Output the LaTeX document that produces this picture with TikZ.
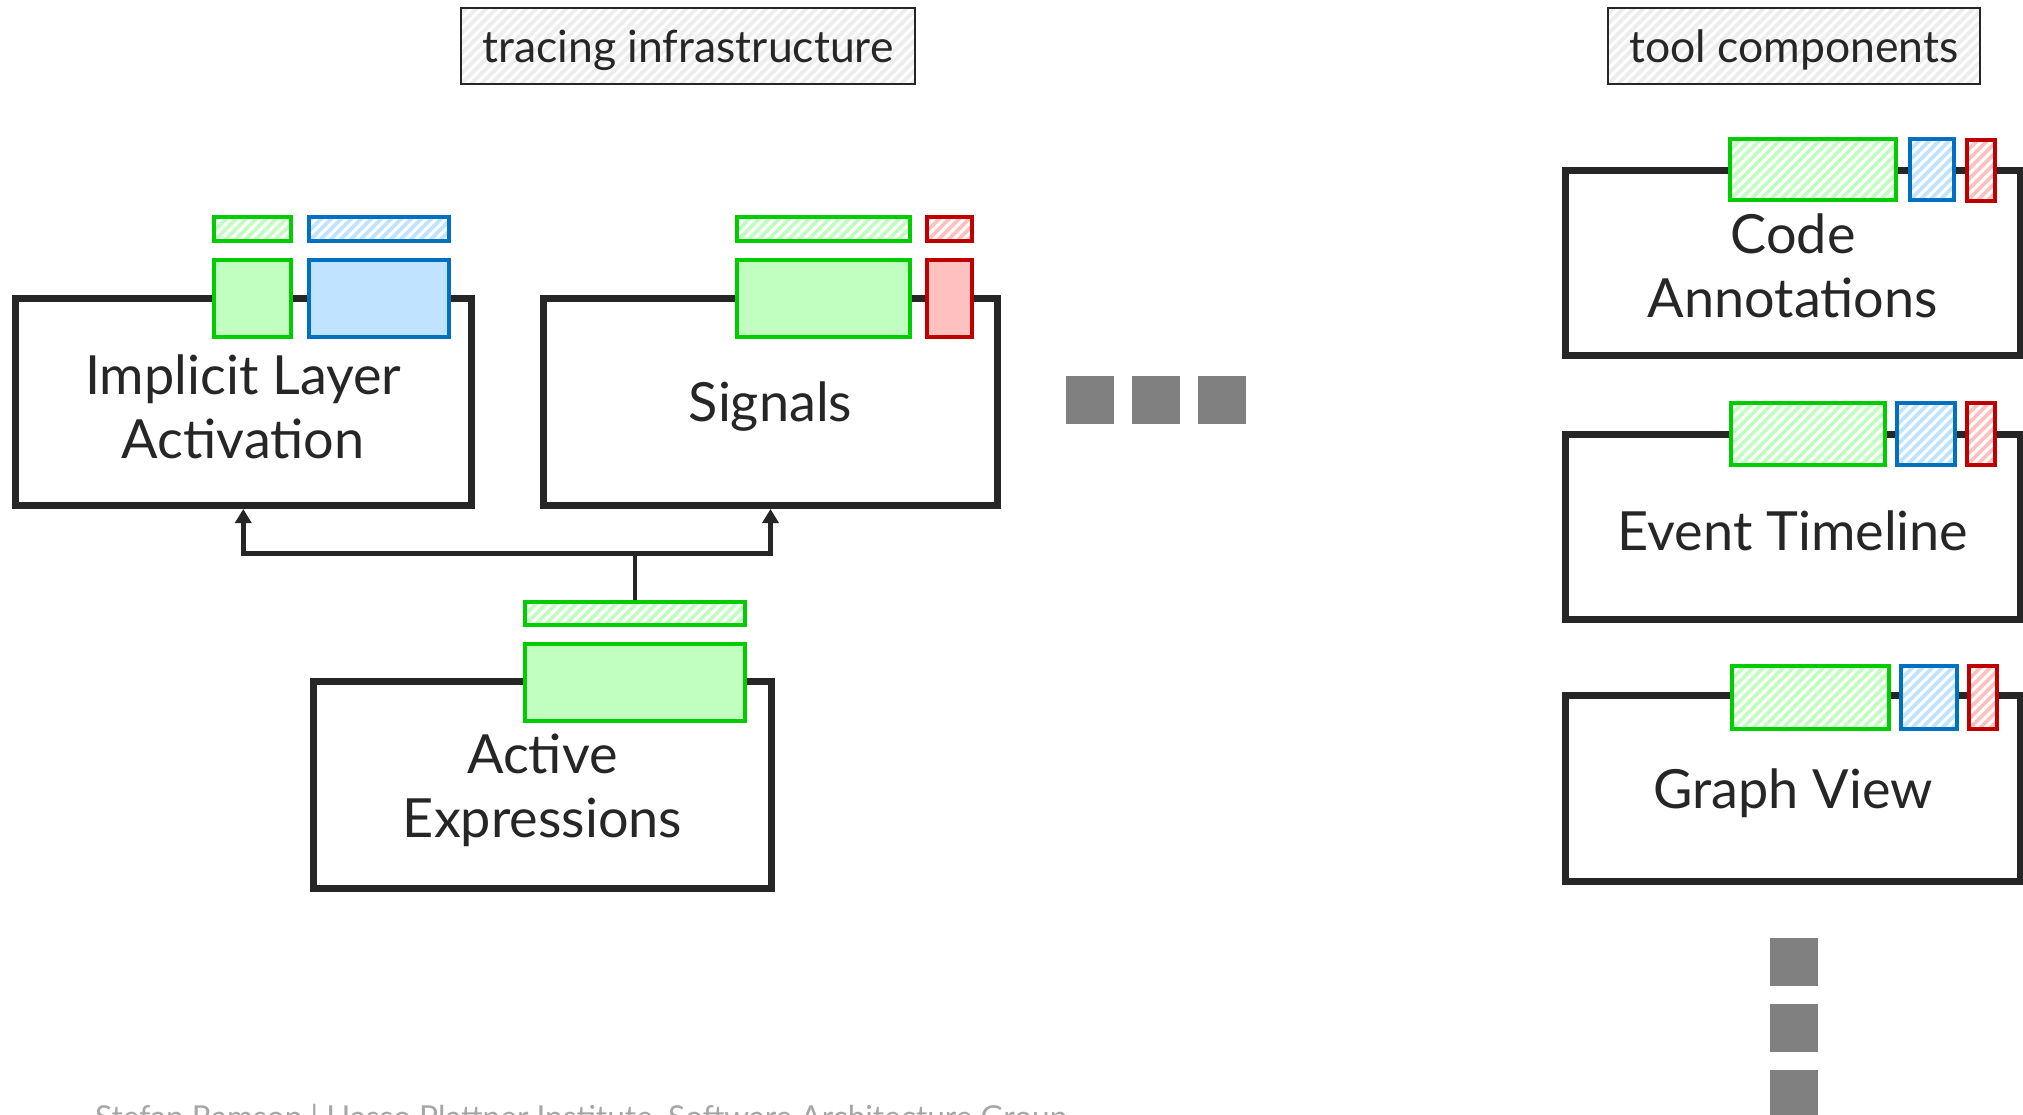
\documentclass[tikz,border=0pt]{standalone}
\usepackage{fontspec}
\setmainfont{Lato}
\usetikzlibrary{arrows.meta}

\definecolor{ink}{HTML}{262626}
\definecolor{gline}{HTML}{00CC00}
\definecolor{gfillc}{HTML}{C0FFC0}
\definecolor{bline}{HTML}{0070C0}
\definecolor{bfillc}{HTML}{C0E4FF}
\definecolor{rline}{HTML}{C00000}
\definecolor{rfillc}{HTML}{FFC0C0}
\definecolor{dotgray}{HTML}{808080}
\definecolor{stripegray}{HTML}{EDEDED}
\definecolor{footgray}{HTML}{A6A6A6}

\tikzset{
  % diagonal stripes clipped to the node outline
  hatch/.style={path picture={
    \foreach \k in {-12,...,48}
      \draw[line width=3.6pt,#1]
        ([xshift=\k*10pt]path picture bounding box.south west) -- ++(120pt,120pt);
  }},
  module/.style={draw=ink, line width=7pt, fill=white, rectangle, inner sep=0pt},
  modtext/.style={inner sep=0pt, text=ink, align=center, font=\fontsize{54}{64}\selectfont},
  tag/.style={rectangle, inner sep=0pt, line width=4pt},
  gtag/.style={tag, draw=gline, fill=gfillc},
  btag/.style={tag, draw=bline, fill=bfillc},
  rtag/.style={tag, draw=rline, fill=rfillc},
  gstripe/.style={tag, draw=gline, fill=white, hatch=gfillc},
  bstripe/.style={tag, draw=bline, fill=white, hatch=bfillc},
  rstripe/.style={tag, draw=rline, fill=white, hatch=rfillc},
  heading/.style={rectangle, draw=ink, line width=2pt, fill=white, hatch=stripegray,
    inner sep=0pt},
  headtext/.style={inner sep=0pt, text=ink, font=\fontsize{44.5}{52}\selectfont},
  more/.style={rectangle, fill=dotgray, minimum size=48pt, inner sep=0pt},
  link/.style={draw=ink, line width=4.5pt},
  linkarrow/.style={link, -{Triangle[width=16pt,length=14pt]}},
}

\begin{document}
\begin{tikzpicture}[x=1pt,y=-1pt]
\useasboundingbox (0,0) rectangle (2023,1115);
\clip (0,0) rectangle (2023,1115);
\fill[white] (0,0) rectangle (2023,1115);

% section headings
\node[heading, minimum width=454pt, minimum height=76pt] (hinfra) at (688,46) {};
\node[headtext] (hinfrat) at ([yshift=-4pt]hinfra.center) {tracing infrastructure};
\node[heading, minimum width=372pt, minimum height=76pt] (htools) at (1794,46) {};
\node[headtext] (htoolst) at ([yshift=-4pt]htools.center) {tool components};

% tracing infrastructure modules
\node[module, minimum width=456.5pt, minimum height=207pt] (ila) at (243.25,402) {};
\node[modtext] (ilat) at ([yshift=-5pt]ila.center) {Implicit Layer\\Activation};
\node[module, minimum width=454pt, minimum height=207pt] (sig) at (770.5,402) {};
\node[modtext] (sigt) at ([yshift=-5pt]sig.center) {Signals};
\node[module, minimum width=458pt, minimum height=207pt] (ae) at (542.5,785) {};
\node[modtext] (aet) at ([yshift=-5pt]ae.center) {Active\\Expressions};

% tags of Implicit Layer Activation
\node[gstripe, minimum width=77pt, minimum height=24pt] (ilgh) at (252.5,229) {};
\node[bstripe, minimum width=140pt, minimum height=24pt] (ilbh) at (379,229) {};
\node[gtag, minimum width=77pt, minimum height=77pt] (ilgf) at (252.5,298.5) {};
\node[btag, minimum width=140pt, minimum height=77pt] (ilbf) at (379,298.5) {};

% tags of Signals
\node[gstripe, minimum width=173pt, minimum height=24pt] (sggh) at (823.5,229) {};
\node[rstripe, minimum width=45pt, minimum height=24pt] (sgrh) at (949.5,229) {};
\node[gtag, minimum width=173pt, minimum height=77pt] (sggf) at (823.5,298.5) {};
\node[rtag, minimum width=45pt, minimum height=77pt] (sgrf) at (949.5,298.5) {};

% tags of Active Expressions
\node[gstripe, minimum width=220pt, minimum height=23pt] (aeh) at (635,613.5) {};
\node[gtag, minimum width=220pt, minimum height=77pt] (aef) at (635,682.5) {};

% dependencies
\coordinate (jn) at (635,553.5);
\draw[link] (aeh.north) -- (jn);
\draw[linkarrow] (jn) -| (ila.south);
\draw[linkarrow] (jn) -| (sig.south);

% further infrastructure
\node[more] (m1) at (1090,400) {};
\node[more] (m2) at (1156,400) {};
\node[more] (m3) at (1222,400) {};

% tool components
\node[module, minimum width=455pt, minimum height=185pt] (ca) at (1793,263) {};
\node[modtext] (cat) at ([yshift=-3pt]ca.center) {Code\\Annotations};
\node[module, minimum width=455pt, minimum height=185pt] (et) at (1793,527) {};
\node[modtext] (ett) at ([yshift=-4pt]et.center) {Event Timeline};
\node[module, minimum width=455pt, minimum height=186pt] (gv) at (1793,788.5) {};
\node[modtext] (gvt) at ([yshift=-5pt]gv.center) {Graph View};

\node[gstripe, minimum width=166pt, minimum height=61pt] (cagh) at (1813,169.5) {};
\node[bstripe, minimum width=44pt, minimum height=61pt] (cabh) at (1932,169.5) {};
\node[rstripe, minimum width=28pt, minimum height=61pt] (carh) at (1981,170.5) {};

\node[gstripe, minimum width=154pt, minimum height=62pt] (etgh) at (1808,434) {};
\node[bstripe, minimum width=58pt, minimum height=62pt] (etbh) at (1926,434) {};
\node[rstripe, minimum width=28pt, minimum height=62pt] (etrh) at (1981,434) {};

\node[gstripe, minimum width=157pt, minimum height=63pt] (gvgh) at (1810.5,697.5) {};
\node[bstripe, minimum width=56pt, minimum height=63pt] (gvbh) at (1929,697.5) {};
\node[rstripe, minimum width=28pt, minimum height=63pt] (gvrh) at (1983,697.5) {};

% further tools
\node[more] (t1) at (1794,962) {};
\node[more] (t2) at (1794,1028) {};
\node[more] (t3) at (1794,1094) {};

% footer
\node[anchor=base west, inner sep=0pt, text=footgray, font=\fontsize{31.6}{36}\selectfont]
  (footer) at (95,1128) {Stefan Ramson | Hasso Plattner Institute, Software Architecture Group};
\end{tikzpicture}
\end{document}
